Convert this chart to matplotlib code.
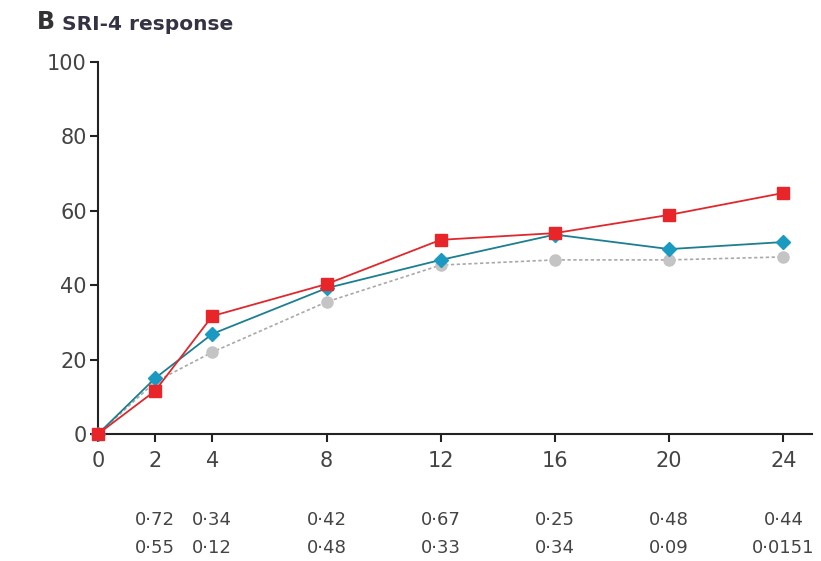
import numpy as np
import matplotlib
matplotlib.use("Agg")
import matplotlib.pyplot as plt
import matplotlib.transforms as mtransforms

# weeks and SRI-4 response (%)
weeks = [0, 2, 4, 8, 12, 16, 20, 24]
red_vals = [0, 11.6, 31.7, 40.3, 52.2, 54.0, 58.9, 64.8]
blue_vals = [0, 15.0, 26.9, 39.2, 46.8, 53.6, 49.7, 51.6]
grey_vals = [0, 14.0, 22.0, 35.5, 45.4, 46.8, 46.8, 47.6]

# p values shown under the x axis
p_weeks = [2, 4, 8, 12, 16, 20, 24]
p_row1 = ["0·72", "0·34", "0·42", "0·67", "0·25", "0·48", "0·44"]
p_row2 = ["0·55", "0·12", "0·48", "0·33", "0·34", "0·09", "0·0151"]

yticks = [0, 20, 40, 60, 80, 100]

plt.rcParams["font.family"] = ["DejaVu Sans"]

fig = plt.figure(figsize=(8.21, 5.61), dpi=100)
fig.patch.set_facecolor("white")
ax = fig.add_axes([0.1194, 0.2264, 0.8697, 0.6631])

ax.plot(weeks, grey_vals, color="#a9a9a9", linestyle=(0, (2, 1.5)), linewidth=1.2,
        marker="o", markersize=8, markerfacecolor="#c4c4c4",
        markeredgecolor="#c4c4c4", clip_on=False, zorder=3)
ax.plot(weeks, blue_vals, color="#1b7f8f", linewidth=1.3,
        marker="D", markersize=7, markerfacecolor="#1a9ac0",
        markeredgecolor="#1a9ac0", clip_on=False, zorder=4)
ax.plot(weeks, red_vals, color="#e0282c", linewidth=1.3,
        marker="s", markersize=8, markerfacecolor="#e8262a",
        markeredgecolor="#e8262a", clip_on=False, zorder=5)

ax.set_xlim(0, 25)
ax.set_ylim(0, 100)
ax.set_xticks(weeks)
ax.set_yticks(yticks)
ax.tick_params(axis="both", direction="out", length=6, width=1.5,
               labelsize=15, colors="#222222")
ax.tick_params(axis="y", pad=2)
ax.tick_params(axis="x", pad=6)
for lbl in ax.get_xticklabels() + ax.get_yticklabels():
    lbl.set_color("#444444")

for side in ["top", "right"]:
    ax.spines[side].set_visible(False)
for side in ["left", "bottom"]:
    ax.spines[side].set_linewidth(1.5)
    ax.spines[side].set_color("#222222")

# p value rows
trans = mtransforms.blended_transform_factory(ax.transData, fig.transFigure)
for w, a, b in zip(p_weeks, p_row1, p_row2):
    ax.text(w, 1 - 520 / 561, a, transform=trans, ha="center", va="center",
            fontsize=13, color="#444444")
    ax.text(w, 1 - 548 / 561, b, transform=trans, ha="center", va="center",
            fontsize=13, color="#444444")

fig.text(37 / 821, 1 - 22 / 561, "B", fontsize=17, fontweight="bold",
         color="#333333", va="center")
fig.text(62 / 821, 1 - 24 / 561, "SRI-4 response", fontsize=14.5,
         fontweight="bold", color="#333344", va="center")

fig.savefig("out.png", dpi=100, facecolor="white")
